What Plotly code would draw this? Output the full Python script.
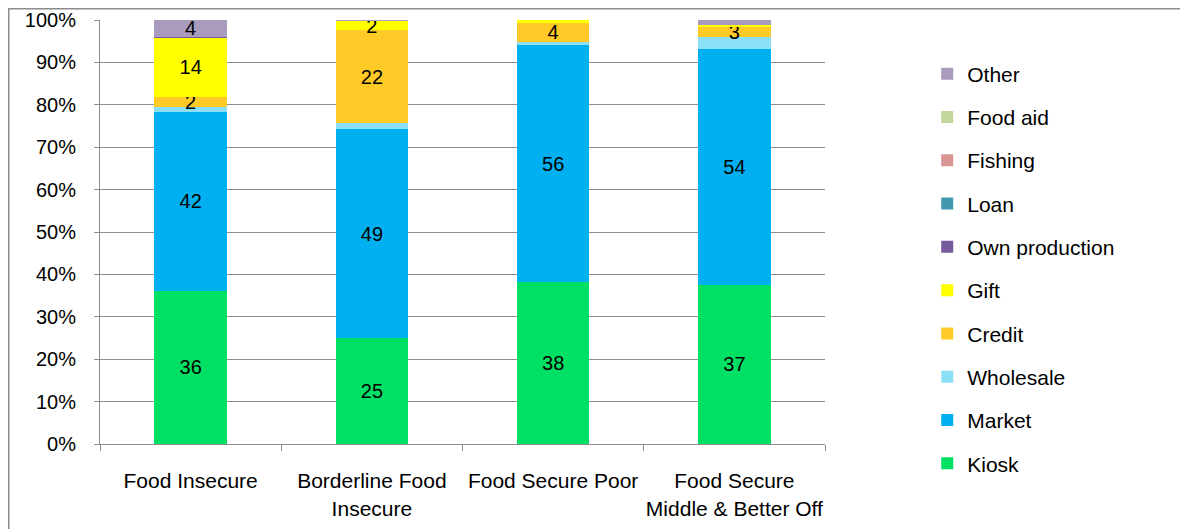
import plotly.graph_objects as go

categories = ["Food Insecure", "Borderline Food<br>Insecure", "Food Secure Poor", "Food Secure<br>Middle & Better Off"]

kiosk = [36.1, 24.9, 38.3, 37.6]
market = [42.2, 49.4, 55.7, 55.5]
wholesale = [1.3, 1.3, 0.9, 2.8]
credit = [2.2, 22.0, 4.5, 2.5]
gift = [14.1, 2.2, 0.6, 0.5]
own_production = [0.2, 0.0, 0.0, 0.0]
loan = [0.0, 0.0, 0.0, 0.0]
fishing = [0.0, 0.0, 0.0, 0.0]
food_aid = [0.0, 0.0, 0.0, 0.0]
other = [3.9, 0.2, 0.0, 1.1]

kiosk_labels = ["36", "25", "38", "37"]
market_labels = ["42", "49", "56", "54"]
credit_labels = ["2", "22", "4", "3"]
gift_labels = ["14", "2", "", ""]
other_labels = ["4", "", "", ""]

series = [
    ("Kiosk", kiosk, "#00E064", kiosk_labels),
    ("Market", market, "#00B0F0", market_labels),
    ("Wholesale", wholesale, "#8BE0F7", None),
    ("Credit", credit, "#FFC926", credit_labels),
    ("Gift", gift, "#FFFF00", gift_labels),
    ("Own production", own_production, "#775A9B", None),
    ("Loan", loan, "#4198AF", None),
    ("Fishing", fishing, "#D99694", None),
    ("Food aid", food_aid, "#C3D69B", None),
    ("Other", other, "#A99BBD", other_labels),
]

FONT = "Liberation Sans, Arial, sans-serif"
FS = 21

L, T, W, H = 92, 12, 725, 424

fig = go.Figure()
n = len(series)
for i, (name, vals, color, labels) in enumerate(series):
    fig.add_trace(go.Bar(
        name=name, x=categories, y=vals,
        marker=dict(color=color, line=dict(width=0)),
        text=labels if labels else None,
        textposition="inside" if labels else "none",
        insidetextanchor="middle",
        constraintext="none",
        textangle=0,
        textfont=dict(color="black", size=20, family=FONT),
        legendgroup=name,
        legendrank=n - i,
    ))

fig.update_layout(
    width=1188, height=529,
    barmode="stack", bargap=0.6,
    plot_bgcolor="white", paper_bgcolor="white",
    margin=dict(l=L, r=1188 - L - W, t=T, b=529 - T - H, autoexpand=False),
    font=dict(family=FONT, size=FS, color="black"),
    showlegend=True,
    legend=dict(
        traceorder="grouped", tracegroupgap=13,
        x=1.141, xanchor="left", y=0.921, yanchor="top",
        font=dict(size=FS, family=FONT), itemclick=False,
        bgcolor="rgba(0,0,0,0)", maxheight=2000,
    ),
    yaxis=dict(
        range=[0, 100], dtick=10, ticksuffix="%",
        showgrid=True, gridcolor="#8C8C8C", gridwidth=1,
        showline=True, linecolor="#8C8C8C", linewidth=1,
        ticks="outside", ticklen=5, tickcolor="#8C8C8C",
        ticklabelstandoff=14, zeroline=False, automargin=False,
        tickfont=dict(size=20),
    ),
    xaxis=dict(
        showline=True, linecolor="#8C8C8C", linewidth=1,
        ticks="outside", ticklen=6, tickcolor="#8C8C8C",
        tickson="boundaries", ticklabelstandoff=18, automargin=False,
        tickangle=0,
        tickfont=dict(size=FS),
    ),
    shapes=[dict(
        type="rect", xref="paper", yref="paper",
        x0=(0.75 - L) / W, x1=(1250 - L) / W,
        y0=-(600 - T - H) / H, y1=1 + (T - 0.75) / H,
        line=dict(color="#8C8C8C", width=1.5), fillcolor="rgba(0,0,0,0)",
        layer="below",
    )],
)

fig.write_html("out.html")
